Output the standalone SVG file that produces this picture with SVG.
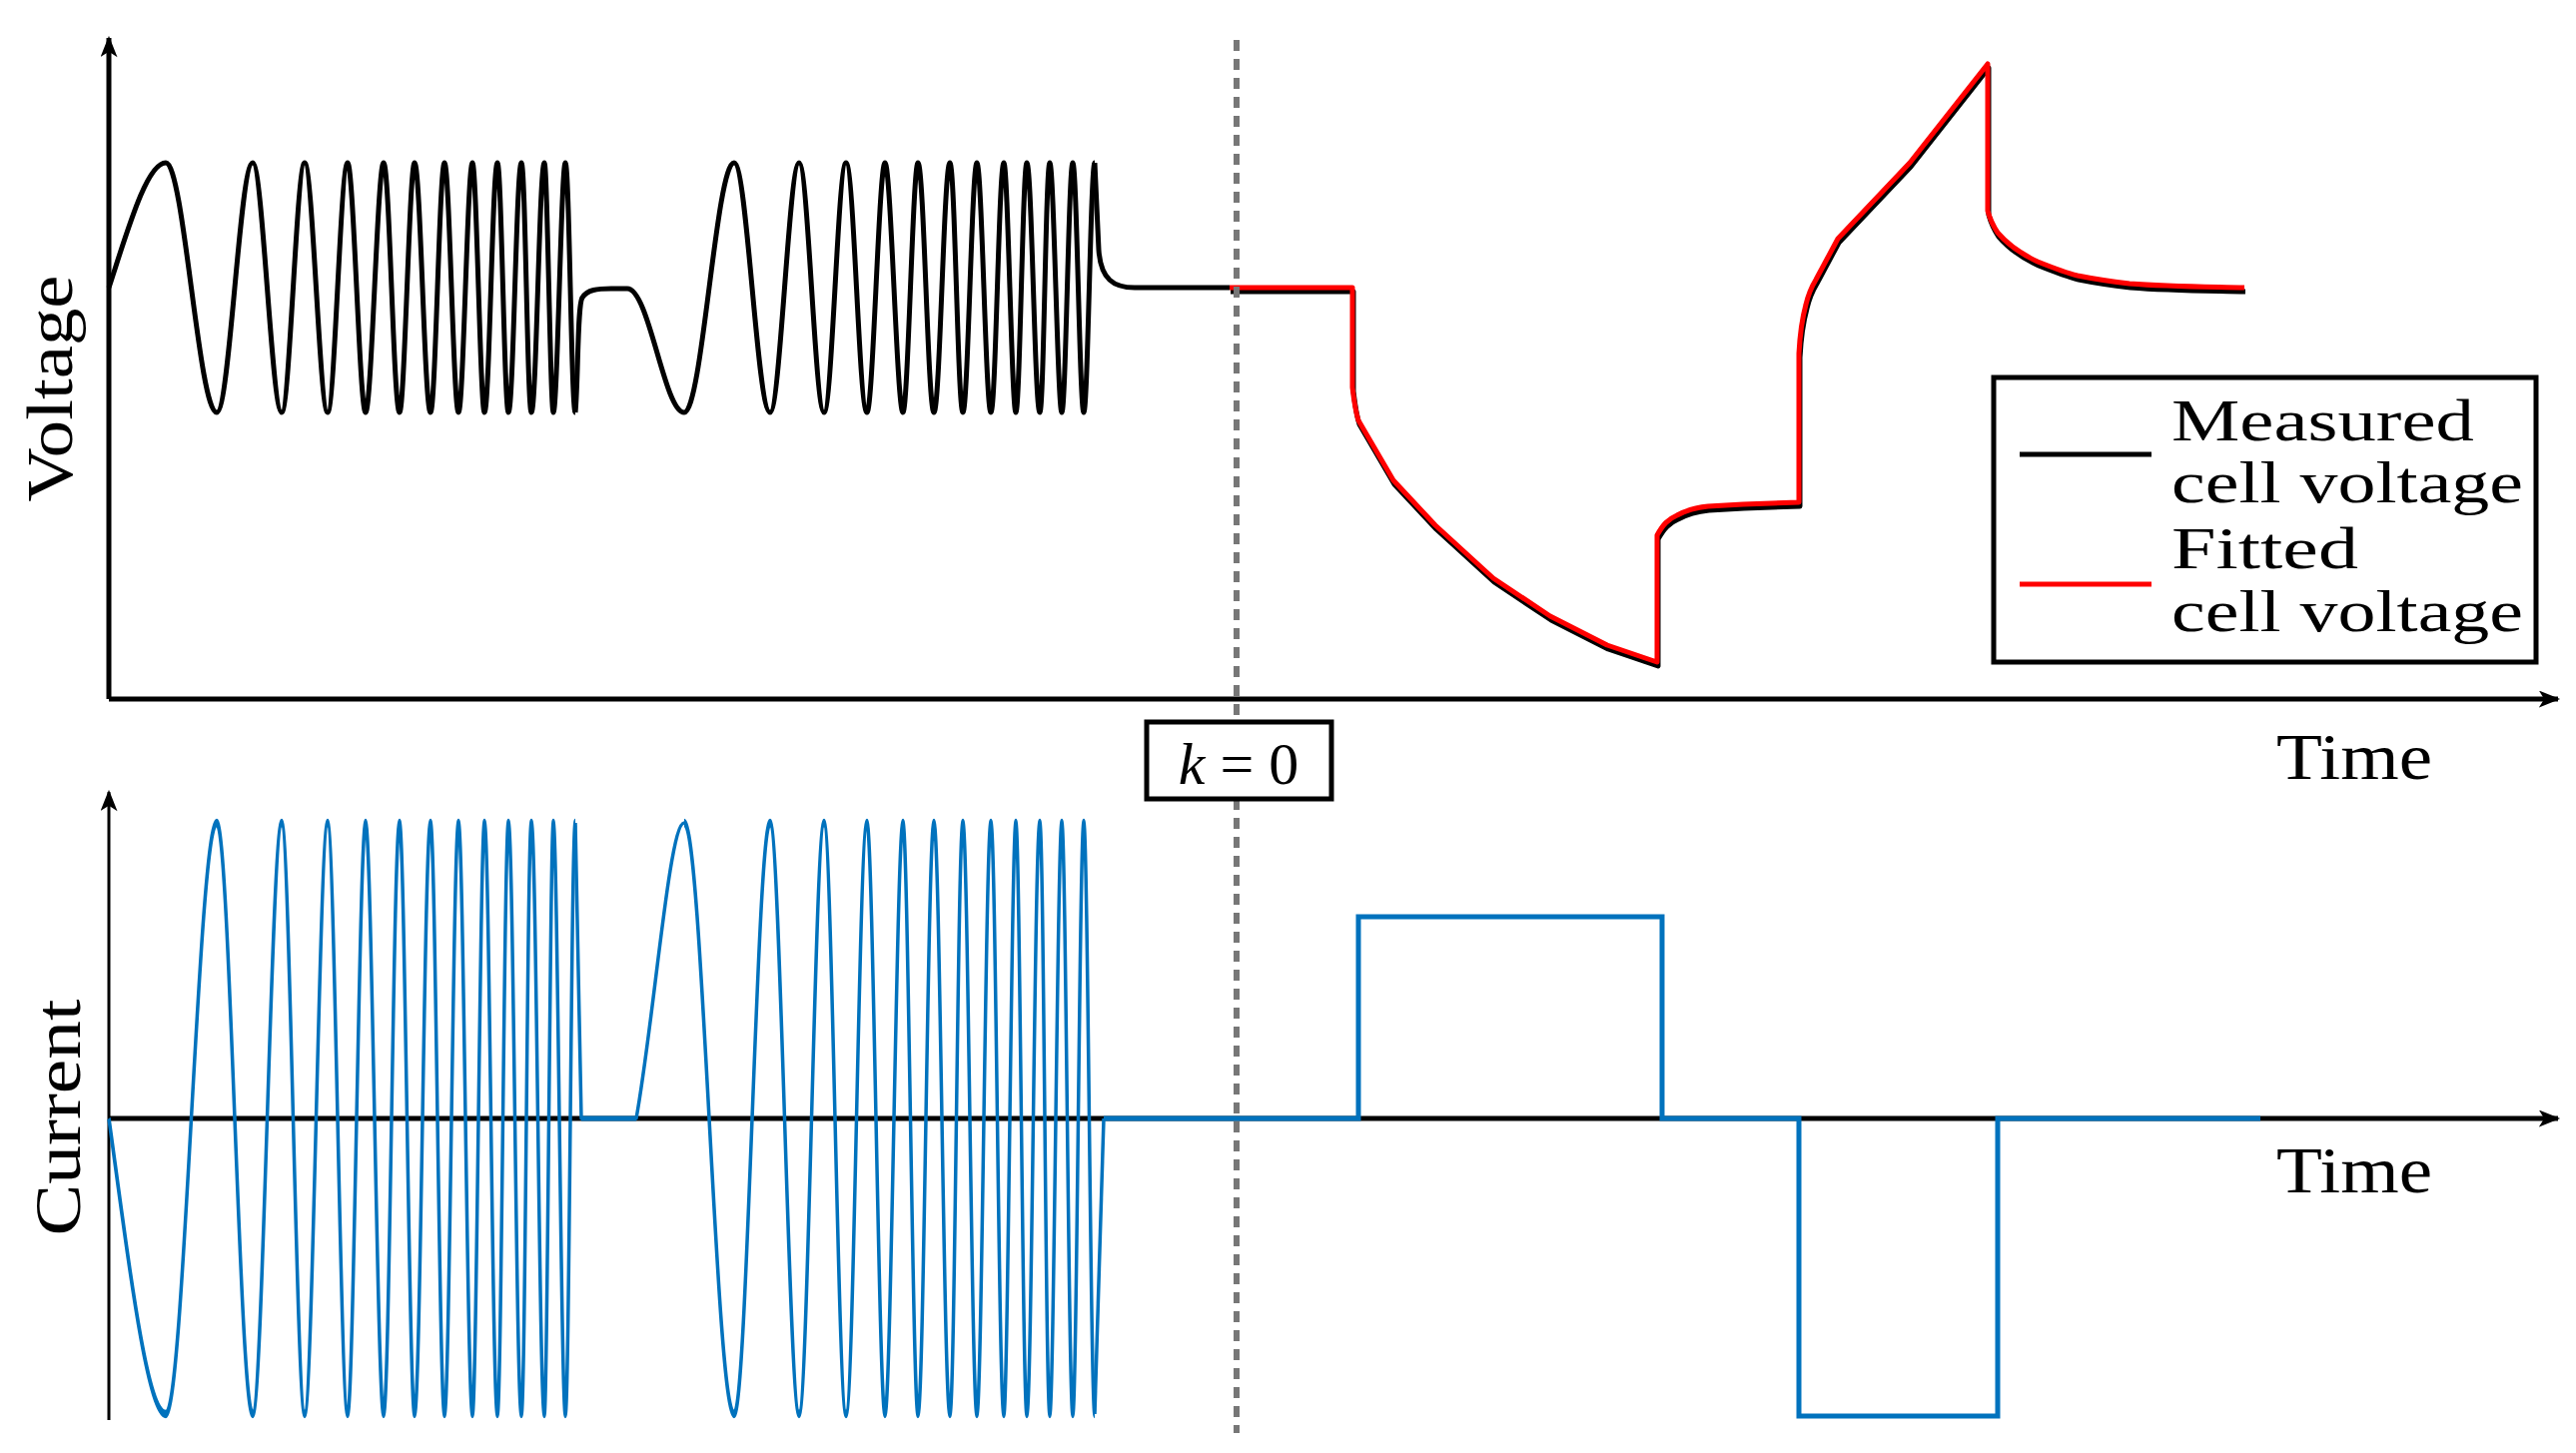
<svg xmlns="http://www.w3.org/2000/svg" xmlns:xlink="http://www.w3.org/1999/xlink" width="2579" height="1455" viewBox="0 0 2579 1455">
<style>
.ax{stroke:#000;stroke-width:5;fill:none}
.blk{stroke:#000;stroke-width:5;fill:none;stroke-linejoin:round}
.red{stroke:#ff0000;stroke-width:5;fill:none;stroke-linejoin:round}
.blu{stroke:#0072BD;stroke-width:3.5;fill:none;stroke-linejoin:round}
.bluw{stroke:#0072BD;stroke-width:5;fill:none}
.t{font-family:"Liberation Serif",serif;fill:#000}
</style>
<defs>
<marker id="arr" viewBox="0 0 20 16" refX="18" refY="8" markerWidth="22" markerHeight="17" markerUnits="userSpaceOnUse" orient="auto">
<path d="M0,0 L20,8 L0,16 L5,8 Z" fill="#000"/>
</marker>
<path id="c1" d="M109,288 C128,230 147,163 166,163 C184,163 199,413 217,413 C230,413 240,163 253,163 C263,163 272,413 282,413 C290,413 297,163 305,163 C313,163 320,413 328,413 C335,413 341,163 348,163 C354,163 360,413 366,413 C372,413 378,163 384,163 C390,163 394,413 400,413 C405,413 410,163 415,163 C421,163 425,413 431,413 C436,413 440,163 445,163 C450,163 454,413 459,413 C464,413 468,163 473,163 C477,163 481,413 485,413 C490,413 493,163 498,163 C502,163 505,413 509,413 C514,413 517,163 522,163 C526,163 528,413 532,413 C537,413 540,163 545,163 C548,163 551,413 554,413 C558,413 562,163 566,163 C570,163 572,413 576,413"/>
<path id="c2" d="M685,413 C703,413 717,163 735,163 C748,163 758,413 771,413 C781,413 790,163 800,163 C809,163 816,413 825,413 C833,413 839,163 847,163 C855,163 860,413 868,413 C874,413 880,163 886,163 C892,163 898,413 904,413 C909,413 914,163 919,163 C925,163 929,413 935,413 C941,413 945,163 951,163 C956,163 959,413 964,413 C969,413 973,163 978,163 C983,163 987,413 992,413 C997,413 1000,163 1005,163 C1009,163 1013,413 1017,413 C1021,413 1024,163 1028,163 C1033,163 1036,413 1041,413 C1045,413 1047,163 1051,163 C1055,163 1059,413 1063,413 C1067,413 1070,163 1074,163 C1078,163 1081,413 1085,413 C1089,413 1092,163 1096,163"/>
<path id="fit" d="M1231,288 L1354,288 L1354,388 C1356,405 1358,415 1360,421 L1395,481 L1437,526 L1495,579 L1552,617 L1609,646 L1659,663 L1659,536 C1665,525 1670,520 1679,516 C1690,510 1700,508 1710,507 L1745,505 L1801,503 L1801,354 C1802,335 1805,316 1808,305 C1811,292 1815,285 1818,280 L1840,239 L1912,163 L1990,64 L1990,211 C1993,222 1996,227 2000,233 C2012,247 2025,255 2040,262 C2055,268 2068,273 2080,276 C2100,280 2115,282 2132,284 C2170,287 2200,287 2247,288"/>
</defs>

<g id="connectors">
<line class="ax" x1="109" y1="700" x2="109" y2="38" marker-end="url(#arr)"/>
<line class="ax" x1="109" y1="700" x2="2561" y2="700" marker-end="url(#arr)"/>
<line class="ax" style="stroke-width:3" x1="109" y1="1422" x2="109" y2="793" marker-end="url(#arr)"/>
<line class="ax" x1="109" y1="1120" x2="2561" y2="1120" marker-end="url(#arr)"/>
</g>

<g id="voltage-measured">
<use xlink:href="#c1" class="blk"/>
<use xlink:href="#c2" class="blk"/>
<path class="blk" d="M576,413 C579,380 578,305 583,298 C588,290 598,289 612,289 L628,289 C650,289 665,413 685,413"/>
<path class="blk" d="M1096,163 L1100,250 C1102,280 1115,288 1136,288 L1231,288"/>
<use xlink:href="#fit" class="blk" transform="translate(1,4)"/>
</g>
<g id="voltage-fitted">
<use xlink:href="#fit" class="red"/>
</g>

<g id="current">
<use xlink:href="#c1" class="blu" transform="translate(0,1120) scale(1,-2.368) translate(0,-288)" style="vector-effect:non-scaling-stroke"/>
<use xlink:href="#c2" class="blu" transform="translate(0,1120) scale(1,-2.368) translate(0,-288)" style="vector-effect:non-scaling-stroke"/>
<path class="blu" d="M576,824 C579,950 580,1050 582,1120 L637,1120 C655,1020 670,824 685,824"/>
<path class="blu" d="M1096,1416 C1099,1300 1102,1200 1105,1120"/>
<path class="bluw" d="M582,1120 L637,1120 M1105,1120 L1360,1120 L1360,918 L1664,918 L1664,1120 L1801,1120 L1801,1418 L2000,1418 L2000,1120 L2263,1120"/>
</g>

<g id="k0-marker">
<line x1="1238" y1="40" x2="1238" y2="1435" stroke="#777" stroke-width="6" stroke-dasharray="11 8"/>
<rect x="1148" y="723" width="185" height="77" fill="#fff" stroke="#000" stroke-width="5"/>
<text class="t" x="1240" y="785" font-size="60" text-anchor="middle"><tspan font-style="italic">k</tspan> = 0</text>
</g>

<g id="legend">
<rect x="1996" y="378" width="543" height="285" fill="#fff" stroke="#000" stroke-width="5"/>
<line x1="2022" y1="455" x2="2154" y2="455" stroke="#000" stroke-width="5"/>
<line x1="2022" y1="585" x2="2154" y2="585" stroke="#ff0000" stroke-width="5"/>
<text class="t" x="2174" y="441" font-size="60" textLength="303" lengthAdjust="spacingAndGlyphs">Measured</text>
<text class="t" x="2174" y="503" font-size="60" textLength="352" lengthAdjust="spacingAndGlyphs">cell voltage</text>
<text class="t" x="2174" y="569" font-size="60" textLength="187" lengthAdjust="spacingAndGlyphs">Fitted</text>
<text class="t" x="2174" y="632" font-size="60" textLength="352" lengthAdjust="spacingAndGlyphs">cell voltage</text>
</g>

<g id="labels">
<text class="t" x="2279" y="780" font-size="66" textLength="156" lengthAdjust="spacingAndGlyphs">Time</text>
<text class="t" x="2279" y="1194" font-size="66" textLength="156" lengthAdjust="spacingAndGlyphs">Time</text>
<text class="t" font-size="66" text-anchor="middle" transform="translate(72,389) rotate(-90)" textLength="227" lengthAdjust="spacingAndGlyphs">Voltage</text>
<text class="t" font-size="66" text-anchor="middle" transform="translate(80,1119) rotate(-90)" textLength="237" lengthAdjust="spacingAndGlyphs">Current</text>
</g>
</svg>
